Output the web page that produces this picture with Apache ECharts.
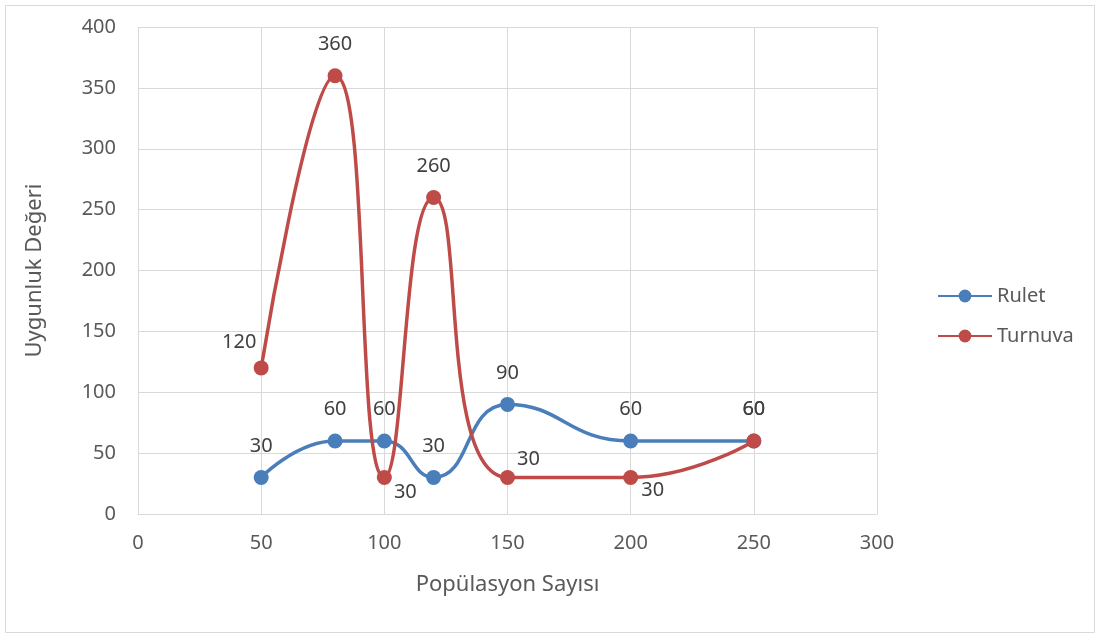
<!DOCTYPE html>
<html>
<head>
<meta charset="utf-8">
<script src="https://cdn.jsdelivr.net/npm/echarts@6/dist/echarts.min.js"></script>
<style>html,body{margin:0;padding:0;background:#fff;}#c{width:1102px;height:639px;}</style>
</head>
<body>
<div id="c"></div>
<script>
var xValues = [50, 80, 100, 120, 150, 200, 250];
var ruletValues = [30, 60, 60, 30, 90, 60, 60];
var turnuvaValues = [120, 360, 30, 260, 30, 30, 60];
var xTicks = [0, 50, 100, 150, 200, 250, 300];
var yTicks = [0, 50, 100, 150, 200, 250, 300, 350, 400];

var ruletOffsets = [[0,-31],[0,-32],[0,-32],[0,-31],[0,-31],[0,-32],[0,-32]];
var turnuvaOffsets = [[-22,-26],[0,-31],[21,15],[0,-31],[21,-18],[22,13],[0,-32]];

var FONT = 'Noto Sans';
var TXT = '#595959';

function build(vals, offs) {
  return xValues.map(function (x, i) {
    return { value: [x, vals[i]], label: { offset: offs[i] } };
  });
}

var chart = echarts.init(document.getElementById('c'));
chart.setOption({
  animation: false,
  textStyle: { fontFamily: FONT },
  graphic: [{
    type: 'rect', shape: { x: 5.5, y: 5.5, width: 1089, height: 627 },
    style: { fill: 'none', stroke: '#d9d9d9', lineWidth: 1 }, silent: true
  }],
  grid: { left: 138, right: 225, top: 27, bottom: 125, containLabel: false },
  legend: {
    orient: 'vertical', left: 932, top: 281, itemGap: 20,
    itemWidth: 54, itemHeight: 16,
    textStyle: { color: TXT, fontSize: 20, fontFamily: FONT },
    data: ['Rulet', 'Turnuva']
  },
  xAxis: {
    type: 'value', min: 0, max: 300, interval: 50,
    name: 'Popülasyon Sayısı', nameLocation: 'middle', nameGap: 60,
    nameTextStyle: { color: TXT, fontSize: 22, fontFamily: FONT },
    axisLine: { show: true, lineStyle: { color: '#d9d9d9', width: 1 } },
    axisTick: { show: false },
    axisLabel: { color: TXT, fontSize: 20, margin: 19, fontFamily: FONT,
      formatter: function (v) { return xTicks.indexOf(v) >= 0 ? String(v) : ''; } },
    splitLine: { show: true, lineStyle: { color: '#d9d9d9', width: 1 } }
  },
  yAxis: {
    type: 'value', min: 0, max: 400, interval: 50,
    name: 'Uygunluk Değeri', nameLocation: 'middle', nameGap: 92, nameRotate: 90,
    nameTextStyle: { color: TXT, fontSize: 22, fontFamily: FONT },
    axisLine: { show: false }, axisTick: { show: false },
    axisLabel: { color: TXT, fontSize: 20, margin: 22, fontFamily: FONT,
      formatter: function (v) { return yTicks.indexOf(v) >= 0 ? String(v) : ''; } },
    splitLine: { show: true, lineStyle: { color: '#d9d9d9', width: 1 } }
  },
  series: [
    {
      name: 'Rulet', type: 'line', smooth: 0.5,
      data: build(ruletValues, ruletOffsets),
      symbol: 'circle', symbolSize: 15,
      lineStyle: { color: '#4a7ebb', width: 3.5 },
      itemStyle: { color: '#4a7ebb' },
      label: { show: true, position: 'inside', color: '#404040', fontSize: 20, fontFamily: FONT },
      z: 2
    },
    {
      name: 'Turnuva', type: 'line', smooth: 0.5,
      data: build(turnuvaValues, turnuvaOffsets),
      symbol: 'circle', symbolSize: 15,
      lineStyle: { color: '#be4b48', width: 3.5 },
      itemStyle: { color: '#be4b48' },
      label: { show: true, position: 'inside', color: '#404040', fontSize: 20, fontFamily: FONT },
      z: 3
    }
  ]
});
</script>
</body>
</html>
